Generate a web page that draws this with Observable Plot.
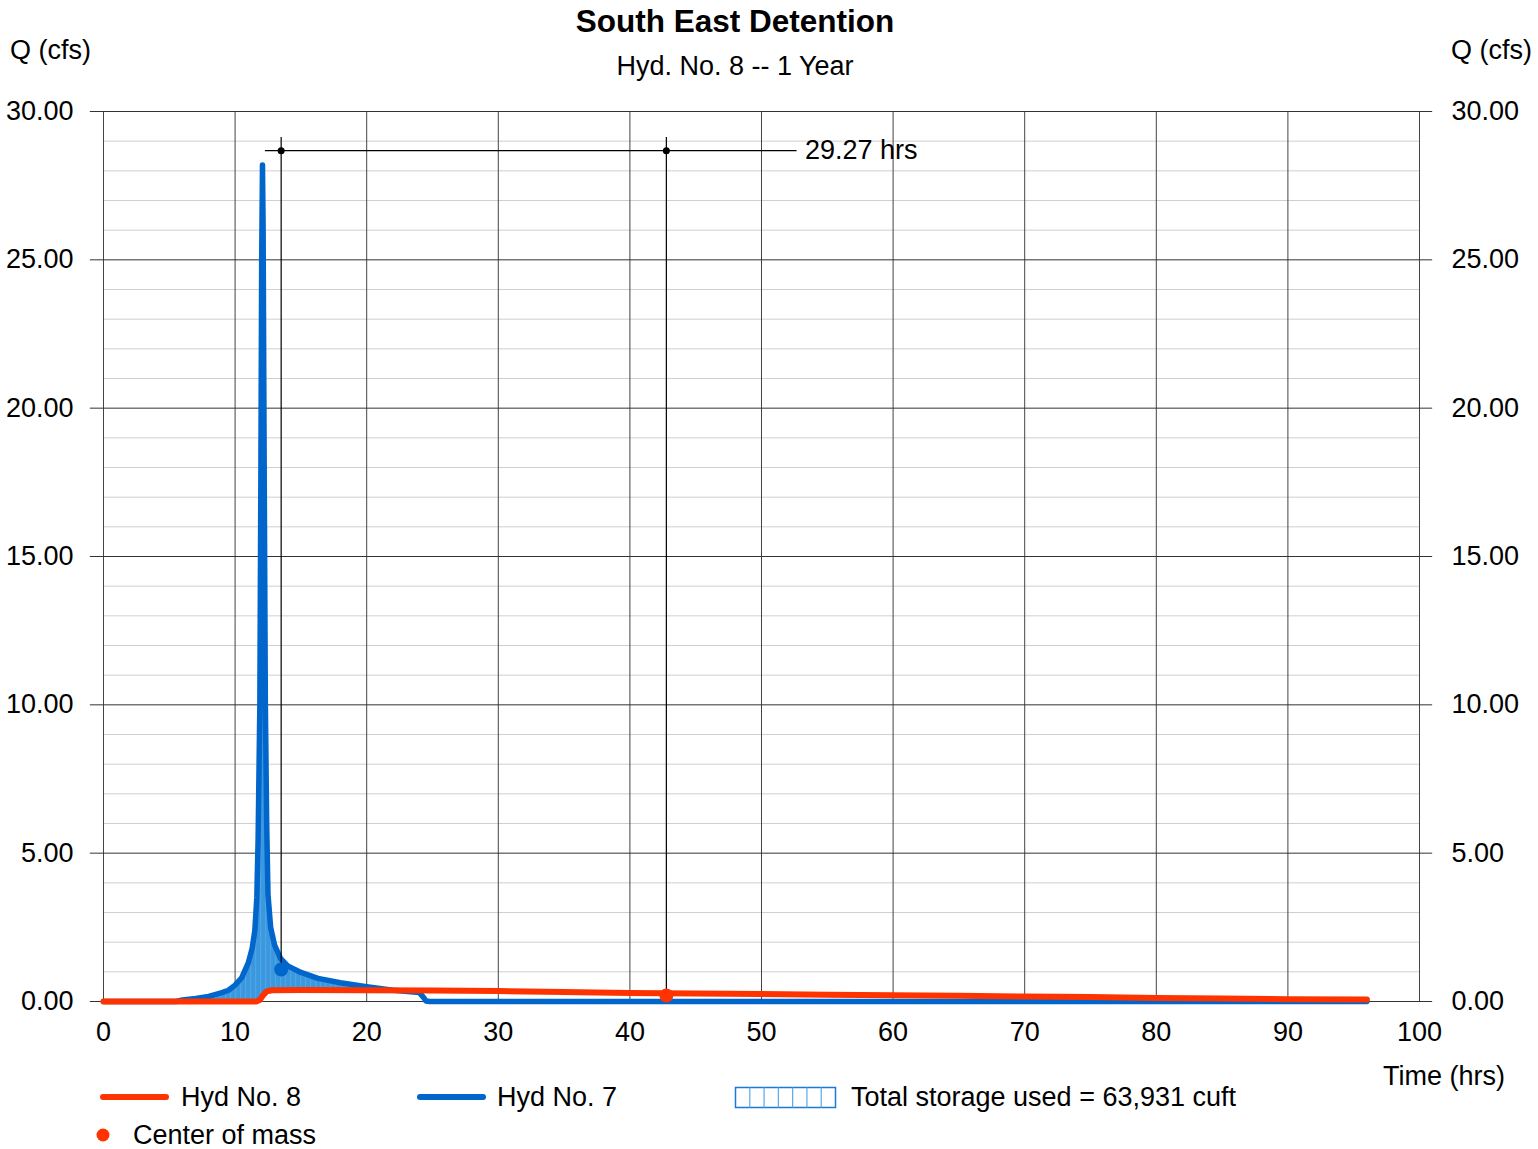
<!DOCTYPE html>
<html>
<head>
<meta charset="utf-8">
<script src="https://cdn.jsdelivr.net/npm/d3@7"></script>
<script src="https://cdn.jsdelivr.net/npm/@observablehq/plot@0.6"></script>
<style>
  body { margin: 0; background: #fff; font-family: "Liberation Sans", Arial, sans-serif; color: #000; }
  #wrap { position: relative; width: 1538px; height: 1149px; overflow: hidden; }
  #chart { position: absolute; left: 0; top: 0; }
  .t { position: absolute; white-space: nowrap; line-height: 1; font-size: 27px; }
  .title { font-weight: bold; font-size: 31.5px; }
  .sw { position: absolute; }
</style>
</head>
<body>
<div id="wrap">
  <div id="chart"></div>
  <div class="t title" style="left:735px; top:6px; transform:translateX(-50%)">South East Detention</div>
  <div class="t" style="left:735px; top:53px; transform:translateX(-50%)">Hyd. No. 8 -- 1 Year</div>
  <div class="t" style="left:10px; top:37px">Q (cfs)</div>
  <div class="t" style="left:1451px; top:37px">Q (cfs)</div>
  <div class="t" style="left:1383px; top:1063px">Time (hrs)</div>

  <!-- legend -->
  <svg class="sw" style="left:98px; top:1090px" width="74" height="14"><line x1="5" y1="7" x2="68" y2="7" stroke="#ff3300" stroke-width="6" stroke-linecap="round"/></svg>
  <div class="t" style="left:181px; top:1084px">Hyd No. 8</div>
  <svg class="sw" style="left:415px; top:1090px" width="74" height="14"><line x1="5" y1="7" x2="68" y2="7" stroke="#0066cc" stroke-width="6" stroke-linecap="round"/></svg>
  <div class="t" style="left:497px; top:1084px">Hyd No. 7</div>
  <svg class="sw" style="left:734px; top:1086px" width="104" height="24" id="hatchKey"></svg>
  <div class="t" style="left:851px; top:1084px">Total storage used = 63,931 cuft</div>
  <svg class="sw" style="left:95px; top:1127px" width="16" height="16"><circle cx="8" cy="8" r="6.5" fill="#ff3300"/></svg>
  <div class="t" style="left:133px; top:1122px">Center of mass</div>
</div>
<script>
// Inflow hydrograph (Hyd No. 7): time in hours, flow in cfs
const hyd7Time = [0, 5.5, 6, 7, 8, 9, 9.5, 10, 10.5, 11, 11.3, 11.5, 11.65, 11.75, 11.88, 11.96, 12.02, 12.08,
                  12.13, 12.2, 12.3, 12.4, 12.5, 12.7, 13.0, 13.45, 14.0, 15, 16.3, 18, 20, 22, 24.0, 24.3, 24.5, 24.8, 96];
const hyd7Q    = [0, 0, 0.05, 0.1, 0.17, 0.3, 0.38, 0.55, 0.8, 1.3, 1.8, 2.4, 3.5, 5.5, 10, 18, 25, 28.2,
                  26, 19, 10, 6, 3.6, 2.5, 1.9, 1.45, 1.2, 0.98, 0.78, 0.63, 0.5, 0.38, 0.3, 0.15, 0.02, 0, 0];

// Outflow hydrograph (Hyd No. 8)
const hyd8Time = [0, 11.6, 11.9, 12.1, 12.4, 12.8, 15, 20, 25, 30, 35, 40, 45, 50, 55, 60, 65, 70, 75, 80, 85, 90, 96];
const hyd8Q    = [0, 0, 0.06, 0.2, 0.34, 0.38, 0.39, 0.38, 0.37, 0.35, 0.32, 0.29, 0.27, 0.25, 0.23, 0.21, 0.19, 0.17, 0.15, 0.12, 0.1, 0.08, 0.07];

// Centers of mass of the two hydrographs
const centerTime = [13.5, 42.77];
const centerQ    = [1.08, 0.2];
const centerColor = ["#0066cc", "#ff3300"];

// Axis ticks
const xTicks = [0, 10, 20, 30, 40, 50, 60, 70, 80, 90, 100];
const yMajor = [0, 5, 10, 15, 20, 25, 30];
const yMinor = d3.range(0, 31, 1).filter(v => v % 5 !== 0);

const hyd7 = hyd7Time.map((t, i) => ({t, q: hyd7Q[i]}));
const hyd8 = hyd8Time.map((t, i) => ({t, q: hyd8Q[i]}));
const centers = centerTime.map((t, i) => ({t, q: centerQ[i], c: centerColor[i]}));

// Storage = region where inflow exceeds outflow, on the union of both time grids
const f7 = d3.scaleLinear().domain(hyd7Time).range(hyd7Q).clamp(true);
const f8 = d3.scaleLinear().domain(hyd8Time).range(hyd8Q).clamp(true);
const storage = Array.from(new Set([...hyd7Time, ...hyd8Time])).sort((a, b) => a - b)
  .map(t => ({t, lo: f8(t), hi: Math.max(f7(t), f8(t))}));

// Distance between centers of mass
const lagHrs = centerTime[1] - centerTime[0];
const dimY = 28.68;

const chart = Plot.plot({
  width: 1538,
  height: 1060,
  marginTop: 111,
  marginBottom: 59,
  marginLeft: 103,
  marginRight: 119,
  style: {fontFamily: "'Liberation Sans', Arial, sans-serif", fontSize: "27px", color: "#000", background: "transparent"},
  x: {domain: [0, 100], label: null},
  y: {domain: [0, 30], label: null},
  marks: [
    Plot.ruleY(yMinor, {x1: 0, x2: 100, stroke: "#cfcfcf", strokeWidth: 1}),
    Plot.ruleX(xTicks, {y1: 0, y2: 30, stroke: "#444", strokeWidth: 1}),
    Plot.ruleY(yMajor, {x1: -1, x2: 101, stroke: "#333", strokeWidth: 1}),
    Plot.axisX(xTicks, {tickSize: 0, tickPadding: 20, tickFormat: d => d, label: null, fontSize: 27}),
    Plot.axisY(yMajor, {anchor: "left", tickSize: 0, tickPadding: 30, tickFormat: d3.format(".2f"), label: null, fontSize: 27}),
    Plot.axisY(yMajor, {anchor: "right", tickSize: 0, tickPadding: 32, tickFormat: d3.format(".2f"), label: null, fontSize: 27}),
    Plot.areaY(storage, {x: "t", y1: "lo", y2: "hi", fill: "url(#storageHatch)"}),
    Plot.line(hyd7, {x: "t", y: "q", stroke: "#0066cc", strokeWidth: 5.5, strokeLinejoin: "round", strokeLinecap: "round"}),
    Plot.line(hyd8, {x: "t", y: "q", stroke: "#ff3300", strokeWidth: 6, strokeLinejoin: "round", strokeLinecap: "round"}),
    // dimension lines between centers of mass
    Plot.ruleX(centers, {x: "t", y1: "q", y2: 29.12, stroke: "#000", strokeWidth: 1.2}),
    Plot.ruleY([dimY], {x1: 12.3, x2: 52.7, stroke: "#000", strokeWidth: 1.2}),
    Plot.dot(centers, {x: "t", y: dimY, r: 3.5, fill: "#000"}),
    Plot.text([lagHrs], {x: 53.3, y: dimY, text: d => `${d.toFixed(2)} hrs`, textAnchor: "start", fontSize: 27}),
    Plot.dot(centers, {x: "t", y: "q", r: 7, fill: "c"})
  ]
});

// hatch pattern for the storage area
const ns = "http://www.w3.org/2000/svg";
const defs = document.createElementNS(ns, "defs");
defs.innerHTML = `<pattern id="storageHatch" patternUnits="userSpaceOnUse" width="5" height="10">
  <rect width="5" height="10" fill="#3b98df"/>
  <rect x="0" width="1.2" height="10" fill="#4fa5e4"/>
</pattern>`;
chart.prepend(defs);
document.getElementById("chart").append(chart);

// legend key for the storage area
const key = document.getElementById("hatchKey");
key.innerHTML = `<rect x="1.5" y="1.5" width="100" height="20" fill="#fff" stroke="#1a78d6" stroke-width="1.5"/>` +
  d3.range(1, 7).map(i => `<line x1="${1.5 + i * 100 / 7}" y1="1.5" x2="${1.5 + i * 100 / 7}" y2="21.5" stroke="#5aa8e8" stroke-width="1.2"/>`).join("");
</script>
</body>
</html>
